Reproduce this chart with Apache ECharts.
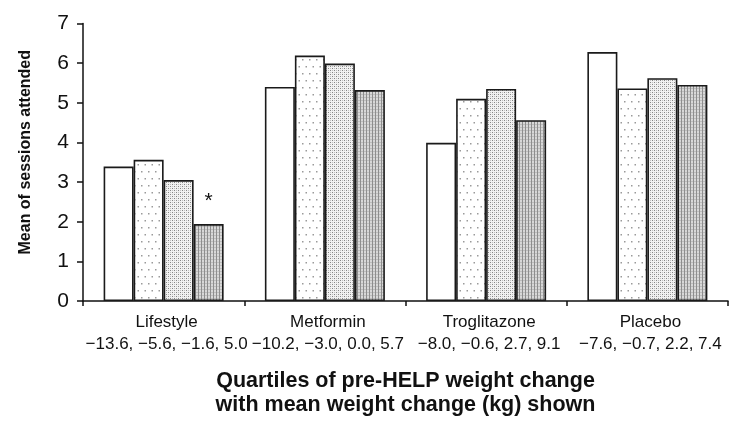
<!DOCTYPE html>
<html>
<head>
<meta charset="utf-8">
<script src="https://cdn.jsdelivr.net/npm/echarts@6/dist/echarts.min.js"></script>
<style>html,body{margin:0;padding:0;background:#fff;}#c{width:750px;height:422px;}</style>
</head>
<body>
<div id="c"></div>
<script>
const categories = ['Lifestyle', 'Metformin', 'Troglitazone', 'Placebo'];
const meanWeightChange = ['\u221213.6, \u22125.6, \u22121.6, 5.0', '\u221210.2, \u22123.0, 0.0, 5.7', '\u22128.0, \u22120.6, 2.7, 9.1', '\u22127.6, \u22120.7, 2.2, 7.4'];
const seriesNames = ['Quartile 1', 'Quartile 2', 'Quartile 3', 'Quartile 4'];
const q1 = [3.39, 5.40, 3.99, 6.28];
const q2 = [3.56, 6.19, 5.10, 5.36];
const q3 = [3.05, 5.99, 5.35, 5.62];
const q4 = [1.94, 5.32, 4.56, 5.45];
const q4Markers = ['*', '', '', ''];
const yTicks = [0, 1, 2, 3, 4, 5, 6, 7];

function makePattern(w, h, draw) {
  const c = document.createElement('canvas');
  c.width = w; c.height = h;
  const ctx = c.getContext('2d');
  draw(ctx, w, h);
  return { image: c, repeat: 'repeat' };
}
const fillWhite = '#ffffff';
const fillSparse = makePattern(7, 14, (ctx, w, h) => {
  ctx.fillStyle = '#fff'; ctx.fillRect(0, 0, w, h);
  ctx.fillStyle = '#9a9a9a';
  ctx.fillRect(1, 3, 1.5, 1.5);
  ctx.fillRect(4.5, 10, 1.5, 1.5);
});
const fillDense = makePattern(4, 4, (ctx, w, h) => {
  ctx.fillStyle = '#f2f2f2'; ctx.fillRect(0, 0, w, h);
  ctx.fillStyle = '#858585';
  ctx.fillRect(0, 0, 1, 1);
  ctx.fillRect(2, 2, 1, 1);
  ctx.fillStyle = '#c0c0c0';
  ctx.fillRect(2, 0, 1, 1);
  ctx.fillRect(0, 2, 1, 1);
});
const fillLines = makePattern(3, 3, (ctx, w, h) => {
  ctx.fillStyle = '#d8d8d8'; ctx.fillRect(0, 0, w, h);
  ctx.fillStyle = '#8e8e8e';
  ctx.fillRect(0, 0, 1, 3);
  ctx.fillStyle = '#bdbdbd';
  ctx.fillRect(1, 1, 2, 1);
});
const fills = [fillWhite, fillSparse, fillDense, fillLines];
const values = [q1, q2, q3, q4];

const font = 'Liberation Sans, Arial, Helvetica, sans-serif';
const chart = echarts.init(document.getElementById('c'), null, { renderer: 'canvas' });

const series = values.map((vals, i) => ({
  name: seriesNames[i],
  type: 'bar',
  barWidth: 30,
  barGap: '0%',
  itemStyle: { color: fills[i], borderColor: '#1a1a1a', borderWidth: 1.6 },
  data: vals.map((v, j) => {
    const d = { value: v };
    if (i === 3 && q4Markers[j]) {
      d.label = { show: true, position: 'top', distance: 12, formatter: q4Markers[j], fontSize: 21, color: '#111', fontFamily: font };
    }
    return d;
  })
}));

chart.setOption({
  animation: false,
  backgroundColor: '#fff',
  grid: { left: 83, right: 22, top: 23.5, bottom: 119.5, containLabel: false },
  xAxis: {
    type: 'category',
    data: categories,
    axisLine: { lineStyle: { color: '#111', width: 1.5 } },
    axisTick: { show: true, interval: 0, length: 5, lineStyle: { color: '#111', width: 1.5 } },
    axisLabel: {
      interval: 0,
      margin: 10,
      fontSize: 17,
      lineHeight: 22,
      color: '#111',
      fontFamily: font,
      padding: [0, 0, 0, 6],
      formatter: (val, idx) => val + '\n' + meanWeightChange[idx]
    },
    name: 'Quartiles of pre-HELP weight change\nwith mean weight change (kg) shown',
    nameLocation: 'middle',
    nameGap: 68,
    nameTextStyle: { fontSize: 21.5, fontWeight: 'bold', color: '#111', lineHeight: 24, fontFamily: font }
  },
  yAxis: {
    type: 'value',
    min: yTicks[0],
    max: yTicks[yTicks.length - 1],
    interval: 1,
    splitLine: { show: false },
    axisLine: { show: true, lineStyle: { color: '#111', width: 1.5 } },
    axisTick: { show: true, length: 6, lineStyle: { color: '#111', width: 1.5 } },
    axisLabel: { fontSize: 21, color: '#111', margin: 14, fontFamily: font },
    name: 'Mean of sessions attended',
    nameLocation: 'middle',
    nameRotate: 90,
    nameGap: 49,
    nameTextStyle: { fontSize: 16, fontWeight: 'bold', color: '#111', fontFamily: font, padding: [0, 0, 0, 20] }
  },
  series: series
});
</script>
</body>
</html>
